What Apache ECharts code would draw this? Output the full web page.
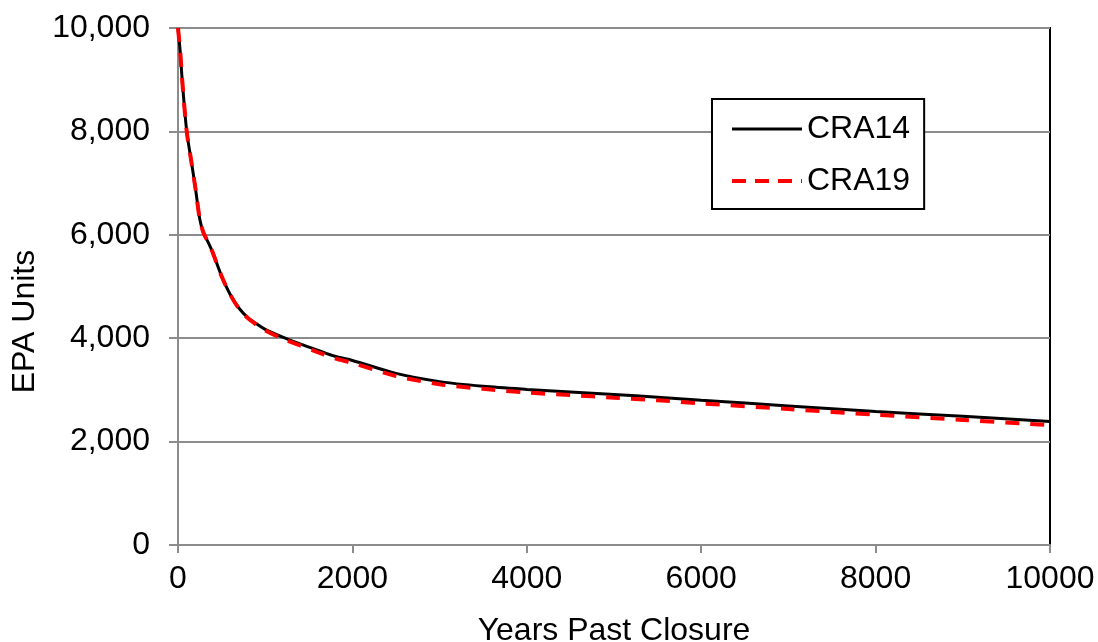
<!DOCTYPE html>
<html>
<head>
<meta charset="utf-8">
<script src="https://cdn.jsdelivr.net/npm/echarts@6/dist/echarts.min.js"></script>
<style>
html,body{margin:0;padding:0;background:#fff;}
#chart{width:1098px;height:642px;}
</style>
</head>
<body>
<div id="chart"></div>
<script>
const years = [0, 25, 50, 100, 150, 200, 250, 290, 350, 400, 500, 600, 700, 800, 900, 1000, 1200, 1400, 1600, 1800, 2000, 2500, 3000, 3500, 4000, 4500, 5000, 5500, 6000, 7000, 8000, 9000, 10000];
const cra14 = [10000, 9550, 8950, 8000, 7450, 6900, 6300, 6050, 5840, 5650, 5200, 4840, 4580, 4400, 4280, 4170, 4020, 3890, 3770, 3650, 3570, 3320, 3160, 3070, 3010, 2960, 2910, 2860, 2800, 2690, 2580, 2490, 2390];
const cra19 = [10000, 9550, 8950, 8000, 7450, 6900, 6300, 6050, 5840, 5650, 5200, 4840, 4570, 4390, 4260, 4150, 3990, 3860, 3730, 3610, 3520, 3270, 3110, 3020, 2950, 2900, 2850, 2800, 2740, 2630, 2520, 2420, 2320];
const seriesNames = ['CRA14', 'CRA19'];
const xTicks = [0, 2000, 4000, 6000, 8000, 10000];
const yTicks = [0, 2000, 4000, 6000, 8000, 10000];

const font = '"Liberation Sans", Arial, sans-serif';
const pairs = (xs, ys) => xs.map((x, i) => [x, ys[i]]);

const chart = echarts.init(document.getElementById('chart'));
chart.setOption({
  animation: false,
  backgroundColor: '#fff',
  textStyle: { fontFamily: font },
  grid: { left: 178, right: 48, top: 28, bottom: 97, containLabel: false, outerBoundsMode: 'none',
    show: true, borderColor: '#000', borderWidth: 2, backgroundColor: 'transparent' },
  legend: {
    orient: 'vertical',
    left: 712, top: 99,
    data: [
      { name: seriesNames[0], itemStyle: { opacity: 0 }, lineStyle: { color: '#000', width: 3, type: 'solid' } },
      { name: seriesNames[1], itemStyle: { opacity: 0 }, lineStyle: { color: '#ff0000', width: 4, type: [14, 9] } }
    ],
    itemWidth: 70, itemHeight: 20, itemGap: 20,
    padding: [14, 14, 12, 18],
    backgroundColor: '#fff', borderColor: '#000', borderWidth: 2,
    textStyle: { fontSize: 32, color: '#000', fontFamily: font, padding: [0, 0, 0, 0] }
  },
  xAxis: {
    type: 'value', min: 0, max: 10000, interval: 2000,
    name: 'Years Past Closure', nameLocation: 'middle', nameGap: 70,
    nameTextStyle: { fontSize: 32, color: '#000', fontFamily: font },
    axisLine: { show: true, lineStyle: { color: '#8c8c8c', width: 2 } },
    axisTick: { show: true, length: 8, lineStyle: { color: '#8c8c8c', width: 2 } },
    axisLabel: { fontSize: 32, color: '#000', margin: 18, fontFamily: font,
      formatter: v => xTicks.includes(v) ? String(v) : '' },
    splitLine: { show: false }
  },
  yAxis: {
    type: 'value', min: 0, max: 10000, interval: 2000,
    name: 'EPA Units', nameLocation: 'middle', nameGap: 136,
    nameTextStyle: { fontSize: 32, color: '#000', fontFamily: font, padding: [0, 70, 0, 0] },
    axisLine: { show: true, lineStyle: { color: '#8c8c8c', width: 2 } },
    axisTick: { show: true, length: 9, lineStyle: { color: '#8c8c8c', width: 2 } },
    axisLabel: { fontSize: 32, color: '#000', margin: 28, fontFamily: font,
      formatter: v => yTicks.includes(v) ? v.toLocaleString('en-US') : '' },
    splitLine: { show: true, lineStyle: { color: '#8c8c8c', width: 2 } }
  },
  series: [
    { name: seriesNames[0], type: 'line', data: pairs(years, cra14), symbol: 'none', smooth: 0.3,
      lineStyle: { color: '#000', width: 3 }, itemStyle: { color: '#000' }, z: 3 },
    { name: seriesNames[1], type: 'line', data: pairs(years, cra19), symbol: 'none', smooth: 0.3,
      lineStyle: { color: '#ff0000', width: 4, type: [14, 11] }, itemStyle: { color: '#ff0000' }, z: 4 }
  ]
});
</script>
</body>
</html>
